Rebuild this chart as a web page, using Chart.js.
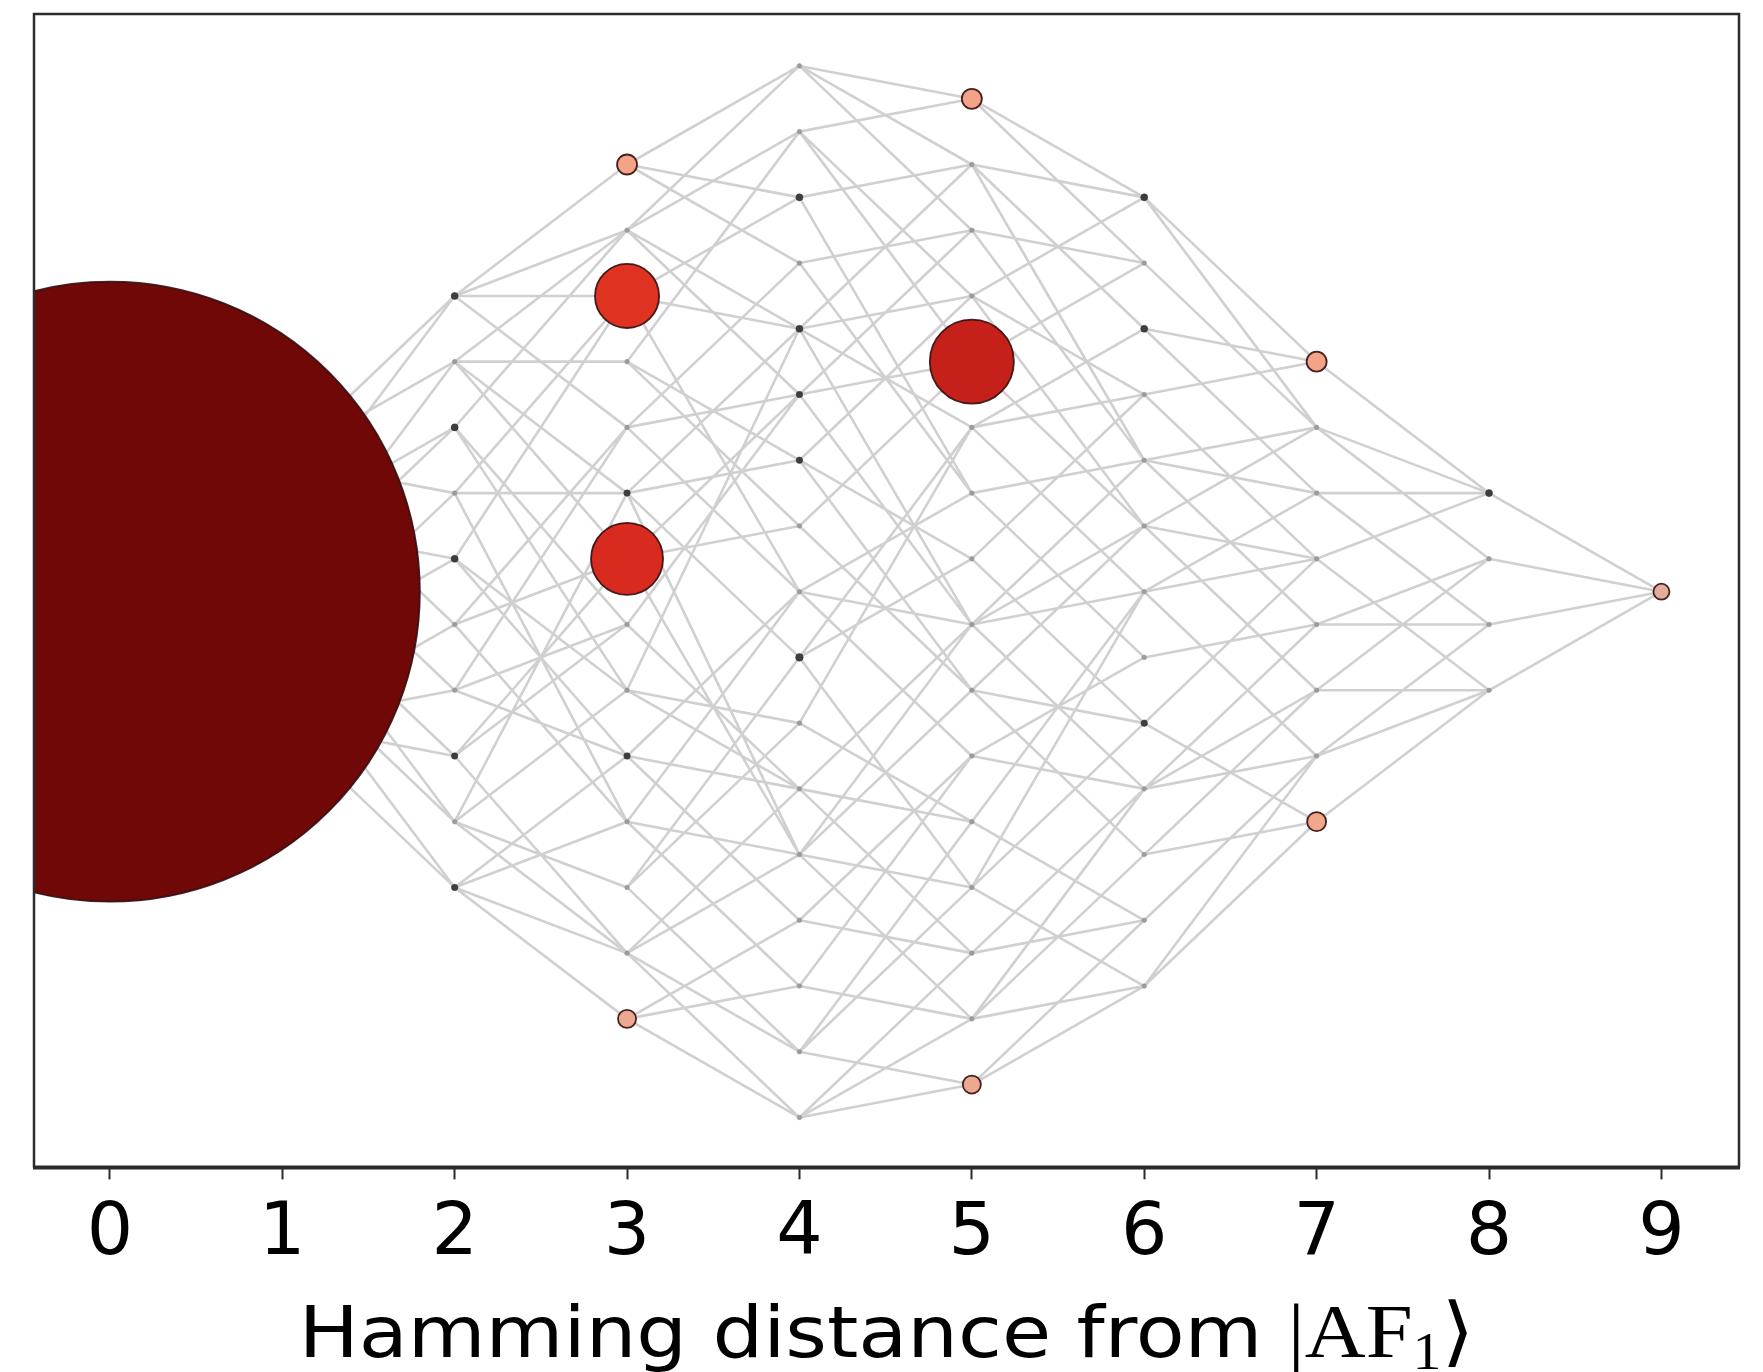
<!DOCTYPE html>
<html lang="en">
<head>
    <meta charset="UTF-8">
    <title>Hamming distance graph</title>
    <script src="https://cdn.jsdelivr.net/npm/chart.js"></script>
    <style>
        body { margin: 0; background: #fff; }
        canvas { display: block; }
    </style>
</head>
<body>
    <canvas id="graphique" width="1763" height="1372"></canvas>

    <script>
        // Axis ticks
        const hammingTicks = [0, 1, 2, 3, 4, 5, 6, 7, 8, 9];
        const hammingLabels = ['0', '1', '2', '3', '4', '5', '6', '7', '8', '9'];

        // Number of basis states in each column
        const layerSizes = [1, 5, 10, 14, 17, 16, 13, 8, 4, 1];

        // Chain of 9 sites, no two neighbours excited; reference state |AF1>
        const chainLength = 9;
        const af1State = '101010101';

        // Coloured nodes: column, row counted from the top, population
        const popColumn = [0, 3, 3, 5, 3, 3, 5, 5, 7, 7, 9];
        const popRow    = [0, 2, 6, 4, 0, 13, 0, 15, 0, 7, 0];
        const popValue  = [1, 0.0107, 0.0135, 0.0184, 0.00104, 0.00085, 0.00104, 0.00085, 0.00104, 0.00094, 0.00067];

        // Very small populations, seen as dark dots
        const faintColumn = [2, 2, 2, 2, 2, 3, 3, 4, 4, 4, 4, 4, 6, 6, 6, 8];
        const faintRow    = [0, 2, 4, 7, 9, 5, 9, 2, 4, 5, 6, 9, 0, 2, 8, 0];
        const faintValue  = [1.3e-4, 1.3e-4, 1.3e-4, 1.1e-4, 1.1e-4, 1.1e-4, 1.1e-4, 1.3e-4, 1.3e-4, 1.1e-4, 1.1e-4, 1.5e-4, 1.3e-4, 1.3e-4, 1.1e-4, 1.3e-4];

        // ---- build the graph ----
        // all allowed configurations, grouped by Hamming distance from |AF1>
        function hamming(a, b) {
            let d = 0;
            for (let i = 0; i < a.length; i++) if (a[i] !== b[i]) d++;
            return d;
        }
        const layers = hammingTicks.map(() => []);
        for (let v = 0; v < (1 << chainLength); v++) {
            const s = v.toString(2).padStart(chainLength, '0');
            if (s.includes('11')) continue;
            layers[hamming(s, af1State)].push(s);
        }
        layers.forEach((l, i) => {
            if (l.length !== layerSizes[i]) console.warn('layer size mismatch', i);
        });

        // vertical position of row r (from top) in a column of n nodes
        function rowY(n, r) { return (n - 1) / 2 - r; }

        // order each column by the mean height of its neighbours (a few sweeps)
        const posOf = new Map();
        function placeLayer(d) {
            layers[d].forEach((s, r) => posOf.set(s, rowY(layers[d].length, r)));
        }
        layers.forEach((l, d) => placeLayer(d));
        function reorder(d, ref) {
            const bary = new Map();
            layers[d].forEach(s => {
                const nb = layers[ref].filter(t => hamming(s, t) === 1);
                bary.set(s, nb.length ? nb.reduce((acc, t) => acc + posOf.get(t), 0) / nb.length : posOf.get(s));
            });
            layers[d].sort((a, b) => bary.get(b) - bary.get(a) || parseInt(a, 2) - parseInt(b, 2));
            placeLayer(d);
        }
        for (let sweep = 0; sweep < 4; sweep++) {
            for (let d = 1; d < layers.length; d++) reorder(d, d - 1);
            for (let d = layers.length - 2; d >= 0; d--) reorder(d, d + 1);
        }

        // populations per node
        const popMap = new Map();
        popColumn.forEach((c, i) => popMap.set(c + '-' + popRow[i], popValue[i]));
        faintColumn.forEach((c, i) => popMap.set(c + '-' + faintRow[i], faintValue[i]));

        // edges: states one spin flip apart in neighbouring columns
        const edgePoints = [];
        for (let d = 0; d < layers.length - 1; d++) {
            layers[d].forEach((s, i) => {
                layers[d + 1].forEach((t, j) => {
                    if (hamming(s, t) === 1) {
                        edgePoints.push({ x: d, y: rowY(layerSizes[d], i) });
                        edgePoints.push({ x: d + 1, y: rowY(layerSizes[d + 1], j) });
                        edgePoints.push({ x: d + 1, y: null });
                    }
                });
            });
        }

        // nodes (small first, big ones on top)
        const nodePoints = [];
        layerSizes.forEach((n, c) => {
            for (let r = 0; r < n; r++) {
                nodePoints.push({ x: c, y: rowY(n, r), p: popMap.get(c + '-' + r) || 0 });
            }
        });
        nodePoints.sort((a, b) => a.p - b.p);

        // ---- styles ----
        const popStops = [
            [-3.3, [214, 176, 168]],
            [-3.0, [244, 166, 136]],
            [-2.0, [226, 52, 34]],
            [-1.87, [216, 42, 31]],
            [-1.74, [197, 32, 26]],
            [0, [112, 8, 8]]
        ];
        function popColour(p) {
            const l = Math.log10(p);
            if (l <= popStops[0][0]) return 'rgb(' + popStops[0][1].join(',') + ')';
            for (let i = 1; i < popStops.length; i++) {
                if (l <= popStops[i][0]) {
                    const [l0, c0] = popStops[i - 1];
                    const [l1, c1] = popStops[i];
                    const f = (l - l0) / (l1 - l0);
                    return 'rgb(' + c0.map((v, k) => Math.round(v + (c1[k] - v) * f)).join(',') + ')';
                }
            }
            return 'rgb(' + popStops[popStops.length - 1][1].join(',') + ')';
        }
        function nodeRadius(p) {
            if (p === 0) return 2.3;
            return Math.max(3.2, 310 * Math.sqrt(p));
        }
        function nodeFill(p) {
            if (p === 0) return '#9c9c9c';
            if (p < 3e-4) return '#3e3e3e';
            return popColour(p);
        }
        function nodeBorder(p) {
            if (p === 0) return '#8f8f8f';
            if (p < 3e-4) return '#333333';
            return 'rgba(50, 14, 18, 0.9)';
        }
        function nodeBorderWidth(p) {
            return p < 3e-4 ? 0.5 : 1.8;
        }

        // plot frame
        const framePlugin = {
            id: 'frame',
            afterDatasetsDraw(chart) {
                const { ctx, chartArea: a } = chart;
                ctx.save();
                ctx.strokeStyle = '#2b2b2b';
                ctx.lineWidth = 2.5;
                ctx.beginPath();
                ctx.moveTo(a.left, a.bottom);
                ctx.lineTo(a.left, a.top);
                ctx.lineTo(a.right, a.top);
                ctx.lineTo(a.right, a.bottom);
                ctx.stroke();
                ctx.lineWidth = 4;
                ctx.beginPath();
                ctx.moveTo(a.left - 1, a.bottom);
                ctx.lineTo(a.right + 1, a.bottom);
                ctx.stroke();
                ctx.restore();
            }
        };

        // x axis title with the ket in serif
        const axisTitlePlugin = {
            id: 'axisTitle',
            afterDraw(chart) {
                const { ctx, chartArea: a } = chart;
                const parts = [
                    { t: 'Hamming distance from ', f: '72px "DejaVu Sans"', dy: 0 },
                    { t: '|AF', f: '76px "Liberation Serif"', dy: 0 },
                    { t: '1', f: '52px "Liberation Serif"', dy: 12 },
                    { t: '\u27E9', f: '76px "DejaVu Serif"', dy: 0 }
                ];
                const sx = 1.11;
                ctx.save();
                let w = 0;
                parts.forEach(p => { ctx.font = p.f; p.w = ctx.measureText(p.t).width; w += p.w; });
                const base = chart.height - 15;
                ctx.translate((a.left + a.right) / 2 - w * sx / 2, base);
                ctx.scale(sx, 1);
                ctx.fillStyle = '#000';
                ctx.textBaseline = 'alphabetic';
                let x = 0;
                parts.forEach(p => {
                    ctx.font = p.f;
                    ctx.fillText(p.t, x, p.dy);
                    x += p.w;
                });
                ctx.restore();
            }
        };

        const ctx = document.getElementById('graphique').getContext('2d');
        const myChart = new Chart(ctx, {
            type: 'scatter',
            data: {
                datasets: [
                    {
                        label: 'states',
                        data: nodePoints,
                        order: 1,
                        clip: 0,
                        pointRadius: nodePoints.map(d => nodeRadius(d.p)),
                        pointBackgroundColor: nodePoints.map(d => nodeFill(d.p)),
                        pointBorderColor: nodePoints.map(d => nodeBorder(d.p)),
                        pointBorderWidth: nodePoints.map(d => nodeBorderWidth(d.p))
                    },
                    {
                        type: 'line',
                        label: 'flips',
                        data: edgePoints,
                        order: 2,
                        spanGaps: false,
                        pointRadius: 0,
                        borderWidth: 2.6,
                        borderColor: 'rgba(150, 150, 150, 0.45)',
                        tension: 0
                    }
                ]
            },
            options: {
                responsive: false,
                animation: false,
                events: [],
                layout: { autoPadding: false, padding: { left: 34, right: 24, top: 14, bottom: 81 } },
                plugins: { legend: { display: false }, tooltip: { enabled: false } },
                scales: {
                    x: {
                        type: 'linear',
                        min: -0.44,
                        max: 9.45,
                        afterBuildTicks: s => { s.ticks = hammingTicks.map(v => ({ value: v })); },
                        ticks: {
                            callback: v => hammingLabels[hammingTicks.indexOf(v)],
                            color: '#000',
                            padding: 12,
                            maxRotation: 0,
                            autoSkip: false,
                            font: { family: 'DejaVu Sans', size: 73 }
                        },
                        grid: { drawOnChartArea: false, drawTicks: true, tickLength: 12, tickColor: '#2b2b2b', tickWidth: 2 },
                        border: { display: false }
                    },
                    y: {
                        type: 'linear',
                        display: false,
                        min: -8.76,
                        max: 8.79
                    }
                }
            },
            plugins: [framePlugin, axisTitlePlugin]
        });
    </script>
</body>
</html>
